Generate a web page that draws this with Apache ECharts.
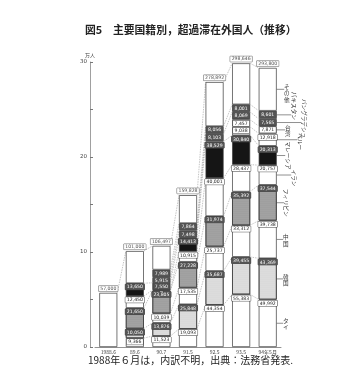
<!DOCTYPE html>
<html><head><meta charset="utf-8">
<script src="https://cdn.jsdelivr.net/npm/echarts@6/dist/echarts.min.js"></script>
<style>html,body{margin:0;padding:0;background:#fff}#c{width:359px;height:379px}</style>
</head><body><div id="c"></div>
<script>
// ---- data (persons) ----
const categories = ['1988.6', '89.6', '90.7', '91.5', '92.5', '93.5', '94年5月'];
const totals      = [57000, 101000, 106497, 159828, 278892, 298646, 293800];
const unknown     = [57000, null, null, null, null, null, null];
const thai        = [null, 9366, 11523, 19093, 44354, 55383, 49992];
const korea       = [null, 10050, 13876, 25848, 35687, 39455, 43369];
const china       = [null, null, 10039, 17535, 25737, 33312, 39738];
const philippines = [null, 21650, 23805, 27228, 31974, 35392, 37544];
const iran        = [null, 12450, 764, 10915, 40001, 28437, 20757];
const malaysia    = [null, 13650, 7550, 14413, 38529, 30840, 20313];
const peru        = [null, null, null, null, null, 9038, 12918];
const taiwan      = [null, null, null, null, null, 7457, 7871];
const bangladesh  = [null, null, 5915, 7498, 8103, 8069, 7565];
const pakistan    = [null, null, 7989, 7864, 8056, 8001, 8601];
const others      = [null, 33834, 25036, 29434, 46451, 43262, 45132];
const yTicks = [0, 10, 20, 30];

const FONT = '"Noto Sans CJK JP", "Noto Sans", sans-serif';
const BAR_W = 18;

const defs = [
  {name: '内訳不明', data: unknown, fill: '#fff', dark: false, noLabel: true},
  {name: 'タイ', data: thai, fill: '#fff', dark: false},
  {name: '韓国', data: korea, fill: '#e4e4e4', dark: true, decal: '#b5b5b5'},
  {name: '中国', data: china, fill: '#fff', dark: false},
  {name: 'フィリピン', data: philippines, fill: '#a9a9a9', dark: true, decal: '#7d7d7d'},
  {name: 'イラン', data: iran, fill: '#fff', dark: false},
  {name: 'マレーシア', data: malaysia, fill: '#151515', dark: true},
  {name: 'ペルー', data: peru, fill: '#fff', dark: false},
  {name: '台湾', data: taiwan, fill: '#fff', dark: false},
  {name: 'バングラデシュ', data: bangladesh, fill: '#8e8e8e', dark: true},
  {name: 'パキスタン', data: pakistan, fill: '#7a7a7a', dark: true},
  {name: 'その他', data: others, fill: '#fff', dark: false, noLabel: true}
];

// annotation styles (offsets from bar edge / segment middle)
const annot = {
  'その他': {dx: 10, dy: 4, rot: false},
  'パキスタン': {dx: 17, dy: -9, rot: true},
  'バングラデシュ': {dx: 27, dy: -4, rot: true},
  '台湾': {dx: 11, dy: 1, rot: false},
  'ペルー': {dx: 23, dy: 2, rot: true},
  'マレーシア': {dx: 11, dy: 0, rot: true},
  'イラン': {dx: 17, dy: 3, rot: true},
  'フィリピン': {dx: 9, dy: 0, rot: true},
  '中国': {dx: 9, dy: 1, rot: false},
  '韓国': {dx: 9, dy: 1, rot: false},
  'タイ': {dx: 9, dy: 1, rot: false}
};

const fmt = v => Math.round(v).toLocaleString('en-US');

// cumulative bottoms/tops from the data
const cumTop = defs.map(() => []);
const cumBot = defs.map(() => []);
for (let i = 0; i < categories.length; i++) {
  let acc = 0;
  defs.forEach((d, s) => {
    const v = d.data[i];
    cumBot[s][i] = acc;
    if (v != null) acc += v;
    cumTop[s][i] = v != null ? acc : null;
  });
}

const barSeries = defs.map(d => ({
  name: d.name,
  type: 'bar',
  stack: 'all',
  barWidth: BAR_W,
  data: d.data,
  z: 3,
  itemStyle: Object.assign({color: d.fill, borderColor: '#3a3a3a', borderWidth: 0.7},
    d.decal ? {decal: {symbol: 'circle', symbolSize: 0.5, color: d.decal, dashArrayX: [2, 0], dashArrayY: [2, 0], rotation: 0}} : {}),
  label: {
    show: !d.noLabel,
    position: 'insideTop',
    distance: 1,
    fontSize: 4.6,
    fontFamily: 'DejaVu Sans, sans-serif',
    color: d.dark ? '#fff' : '#222',
    backgroundColor: d.dark ? '#555' : '#fff',
    borderColor: '#444',
    borderWidth: 0.5,
    padding: [0.5, 1.5, 0, 1.5],
    formatter: p => (p.value == null || p.value < 1500) ? '' : fmt(p.value)
  }
}));

// connecting lines between consecutive bars
const linkData = [];
defs.forEach((d, s) => {
  if (d.name === 'その他' || d.name === '内訳不明') return;
  for (let i = 0; i < categories.length - 1; i++) {
    if (cumTop[s][i] != null && cumTop[s][i + 1] != null) {
      linkData.push([i, cumTop[s][i], i + 1, cumTop[s][i + 1]]);
    }
  }
});
for (let i = 0; i < totals.length - 1; i++) linkData.push([i, totals[i], i + 1, totals[i + 1]]);

const linkSeries = {
  type: 'custom',
  z: 2,
  silent: true,
  data: linkData,
  encode: {x: [0, 2], y: [1, 3]},
  renderItem: (params, api) => {
    const a = api.coord([api.value(0), api.value(1)]);
    const b = api.coord([api.value(2), api.value(3)]);
    return {type: 'line', shape: {x1: a[0] + BAR_W / 2, y1: a[1], x2: b[0] - BAR_W / 2, y2: b[1]},
      style: {stroke: '#8a8a8a', lineWidth: 0.5, lineDash: [1.5, 1]}};
  }
};

// right-hand annotations at the last bar
const last = categories.length - 1;
const annData = [];
const annNames = [];
defs.forEach((d, s) => {
  if (!annot[d.name] || d.data[last] == null) return;
  annData.push([last, (cumBot[s][last] + cumTop[s][last]) / 2]);
  annNames.push(d.name);
});
const annSeries = {
  type: 'custom',
  z: 4,
  silent: true,
  data: annData,
  encode: {x: 0, y: 1},
  renderItem: (params, api) => {
    const name = annNames[params.dataIndex];
    const st = annot[name];
    const p = api.coord([api.value(0), api.value(1)]);
    const x0 = p[0] + BAR_W / 2;
    const tx = x0 + st.dx;
    const ty = p[1] + st.dy;
    const text = st.rot ? name : name.split('').join('\n');
    return {type: 'group', children: [
      {type: 'line', shape: {x1: x0, y1: p[1], x2: tx - 2.5, y2: p[1]}, style: {stroke: '#444', lineWidth: 0.6}},
      {type: 'text', x: tx, y: ty, rotation: st.rot ? -Math.PI / 2 : 0,
        style: {text: text, fontSize: 5.6, fontFamily: FONT, fill: '#333', align: 'center', verticalAlign: 'middle', lineHeight: 6.2}}
    ]};
  }
};

const totalSeries = {
  type: 'scatter',
  symbolSize: 0,
  z: 5,
  data: totals.map((t, i) => [i, t]),
  label: {
    show: true, position: 'top', distance: 1.5,
    fontSize: 4.6, fontFamily: 'DejaVu Sans, sans-serif', color: '#222',
    backgroundColor: '#fff', borderColor: '#555', borderWidth: 0.5, padding: [0.5, 1.5, 0, 1.5],
    formatter: p => fmt(p.value[1])
  }
};

const chart = echarts.init(document.getElementById('c'));
chart.setOption({
  animation: false,
  backgroundColor: '#fff',
  title: {
    text: '図5　主要国籍別，超過滞在外国人（推移）',
    left: 80, top: 20,
    textStyle: {fontSize: 10.8, fontWeight: 'bold', fontFamily: FONT, color: '#222'}
  },
  grid: {left: 95, right: 78, top: 62, bottom: 32},
  xAxis: {
    type: 'category',
    data: categories,
    axisTick: {show: false},
    axisLine: {lineStyle: {color: '#777', width: 0.8}},
    axisLabel: {fontSize: 5, margin: 3, color: '#444', fontFamily: FONT}
  },
  yAxis: {
    type: 'value',
    min: 0, max: 300000, interval: 100000,
    offset: 5,
    name: '万人',
    nameLocation: 'end',
    nameGap: 4,
    nameTextStyle: {fontSize: 5, color: '#444', fontFamily: FONT, align: 'center'},
    axisLine: {show: true, lineStyle: {color: '#888', width: 0.8}},
    axisTick: {show: true, inside: true, length: 3, lineStyle: {color: '#777'}},
    minorTick: {show: true, splitNumber: 2, length: 3, lineStyle: {color: '#777'}},
    splitLine: {show: false},
    axisLabel: {fontSize: 5.5, margin: 3, color: '#444', fontFamily: 'DejaVu Sans, sans-serif',
      formatter: v => String(yTicks[Math.round(v / 100000)])}
  },
  graphic: [{
    type: 'text', left: 88, top: 355,
    style: {text: '1988年６月は，内訳不明，出典：法務省発表.', fontSize: 10, fontFamily: FONT, fill: '#222'}
  }],
  series: [linkSeries].concat(barSeries, [annSeries, totalSeries])
});
</script></body></html>
